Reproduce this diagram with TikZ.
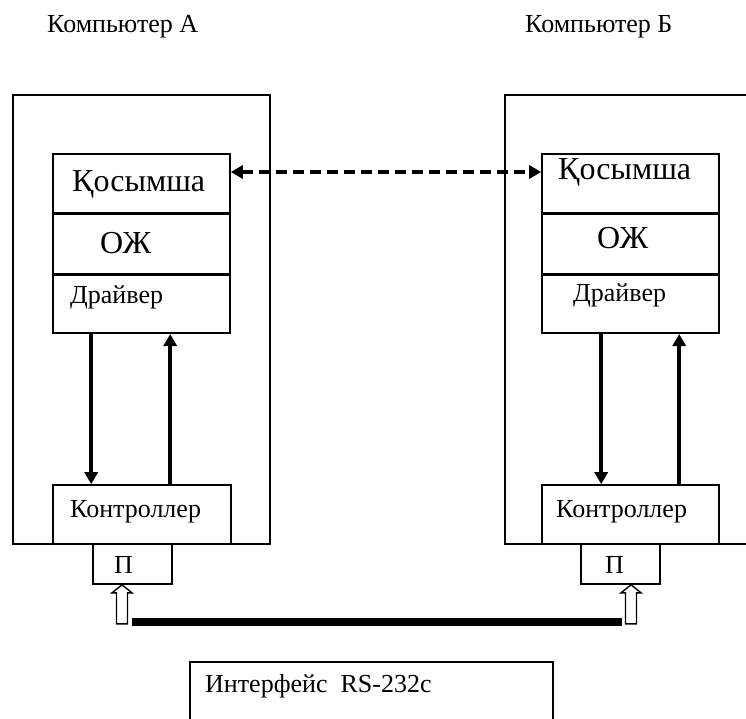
\documentclass[tikz,border=0pt]{standalone}
\usepackage{fontspec}
\setmainfont{Liberation Serif}[Ligatures=TeX]
\usetikzlibrary{arrows.meta,positioning,calc}

\begin{document}
\begin{tikzpicture}[
    x=1pt, y=-1pt,
    node distance=0pt,
    box/.style={rectangle, draw, line width=1.6pt, inner sep=0pt},
    layer/.style={box, minimum width=177pt, minimum height=59pt},
    txt/.style={anchor=base west, inner sep=0pt, font=\rmfamily\fontsize{26}{28}\selectfont},
    big/.style={txt, font=\rmfamily\fontsize{32}{34}\selectfont},
    flow/.style={-{Triangle[length=12pt,width=13pt]}, line width=3.6pt},
    link/.style={{Triangle[length=12pt,width=13pt]}-{Triangle[length=12pt,width=13pt]}, line width=3.6pt, dash pattern=on 11pt off 6pt},
    hollow/.style={draw, line width=1.4pt, fill=white},
    cable/.style={line width=8pt}
]
    \useasboundingbox (0,0) rectangle (746,719);
    \clip (0,0) rectangle (746,719);

    % Titles
    \node[txt] (titleA) at (47,33) {Компьютер А};
    \node[txt] (titleB) at (525,33) {Компьютер Б};

    % Computer A
    \node[box, minimum width=257pt, minimum height=449pt] (outerA) at (141.5,319.5) {};
    \node[layer] (appA) at (141.5,183.5) {};
    \node[layer, below=of appA] (osA) {};
    \node[layer, minimum height=58pt, below=of osA] (drvA) {};
    \node[box, minimum width=178pt, minimum height=59pt] (ctrlA) at (142,514.5) {};
    \node[box, minimum width=79pt, minimum height=40pt] (portA) at (132.5,564) {};

    % Computer B
    \node[box, minimum width=295pt, minimum height=449pt] (outerB) at (652.5,319.5) {};
    \node[layer] (appB) at (630.5,183.5) {};
    \node[layer, below=of appB] (osB) {};
    \node[layer, minimum height=58pt, below=of osB] (drvB) {};
    \node[box, minimum width=177pt, minimum height=59pt] (ctrlB) at (630.5,514.5) {};
    \node[box, minimum width=79pt, minimum height=40pt] (portB) at (620.5,564) {};

    % Texts
    \node[big] (tAppA) at (72,192) {Қосымша};
    \node[big] (tOsA) at (100,253) {ОЖ};
    \node[txt] (tDrvA) at (70,303) {Драйвер};
    \node[txt] (tCtrlA) at (70,517) {Контроллер};
    \node[txt] (tPortA) at (114,573) {П};
    \node[big] (tAppB) at (558,180) {Қосымша};
    \node[big] (tOsB) at (597,248) {ОЖ};
    \node[txt] (tDrvB) at (573,301) {Драйвер};
    \node[txt] (tCtrlB) at (556,517) {Контроллер};
    \node[txt] (tPortB) at (605,573) {П};

    % Interface
    \node[box, minimum width=363pt, minimum height=98pt] (iface) at (371.5,711) {};
    \node[txt] (tIface) at (205,692) {Интерфейс\ \ RS-232c};

    % Arrows
    \draw[link] ([yshift=11.5pt]appA.east) -- ([yshift=11.5pt]appB.west);
    \draw[flow] ([xshift=39pt]drvA.south west) -- ([xshift=39pt]ctrlA.north west);
    \draw[flow] ([xshift=118pt]ctrlA.north west) -- ([xshift=118pt]drvA.south west);
    \draw[flow] ([xshift=60pt]drvB.south west) -- ([xshift=60pt]ctrlB.north west);
    \draw[flow] ([xshift=138pt]ctrlB.north west) -- ([xshift=138pt]drvB.south west);

    % Cable
    \coordinate (barA) at (132,622);
    \coordinate (barB) at (622,622);
    \draw[cable] (barA) -- (barB);
    \draw[hollow] ([xshift=-10.5pt]portA.south) -- ++(-10,8) -- ++(4.5,0) -- ++(0,31)
        -- ++(11,0) -- ++(0,-31) -- ++(4.5,0) -- cycle;
    \draw[hollow] ([xshift=10.5pt]portB.south) -- ++(-10,8) -- ++(4.5,0) -- ++(0,31)
        -- ++(11,0) -- ++(0,-31) -- ++(4.5,0) -- cycle;
\end{tikzpicture}
\end{document}
